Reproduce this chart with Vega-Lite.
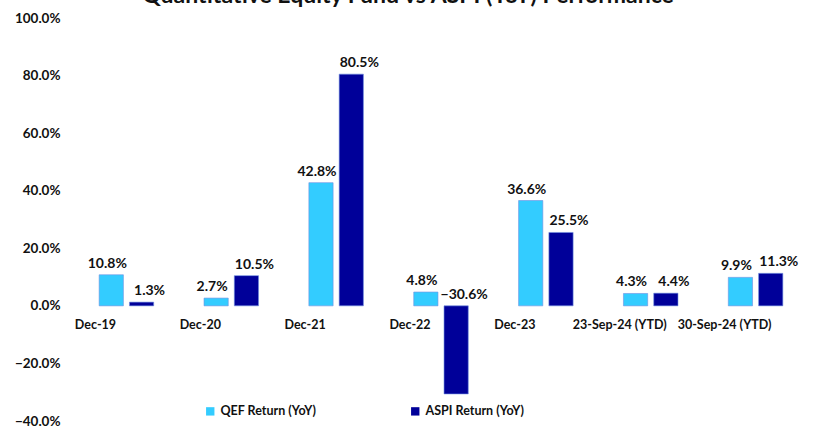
{
  "$schema": "https://vega.github.io/schema/vega-lite/v6.json",
  "autosize": {"type": "none"},
  "width": 734,
  "height": 403,
  "padding": {"left": 74, "top": 18, "right": 12, "bottom": 7},
  "background": "white",
  "config": {"view": {"stroke": null}, "font": "Lato"},
  "title": {
    "text": "Quantitative Equity Fund vs ASPI (YoY) Performance",
    "fontSize": 23,
    "fontWeight": "bold",
    "font": "Lato",
    "color": "#111111",
    "anchor": "middle",
    "dx": -33,
    "baseline": "alphabetic",
    "offset": -15
  },
  "data": {
    "values": [
      {"period": "Dec-19", "series": "QEF Return (YoY)", "value": 10.8},
      {"period": "Dec-19", "series": "ASPI Return (YoY)", "value": 1.3},
      {"period": "Dec-20", "series": "QEF Return (YoY)", "value": 2.7},
      {"period": "Dec-20", "series": "ASPI Return (YoY)", "value": 10.5},
      {"period": "Dec-21", "series": "QEF Return (YoY)", "value": 42.8},
      {"period": "Dec-21", "series": "ASPI Return (YoY)", "value": 80.5},
      {"period": "Dec-22", "series": "QEF Return (YoY)", "value": 4.8},
      {"period": "Dec-22", "series": "ASPI Return (YoY)", "value": -30.6},
      {"period": "Dec-23", "series": "QEF Return (YoY)", "value": 36.6},
      {"period": "Dec-23", "series": "ASPI Return (YoY)", "value": 25.5},
      {"period": "23-Sep-24 (YTD)", "series": "QEF Return (YoY)", "value": 4.3},
      {"period": "23-Sep-24 (YTD)", "series": "ASPI Return (YoY)", "value": 4.4},
      {"period": "30-Sep-24 (YTD)", "series": "QEF Return (YoY)", "value": 9.9},
      {"period": "30-Sep-24 (YTD)", "series": "ASPI Return (YoY)", "value": 11.3}
    ]
  },
  "transform": [
    {"calculate": "max(datum.value, 0)", "as": "labelPos"},
    {"calculate": "format(datum.value, '.1f') + '%'", "as": "label"}
  ],
  "encoding": {
    "x": {
      "field": "period",
      "type": "nominal",
      "sort": null,
      "scale": {"paddingInner": 0.48, "paddingOuter": 0.24},
      "axis": {
        "title": null,
        "orient": "bottom",
        "offset": -115,
        "domain": false,
        "ticks": false,
        "labelAngle": 0,
        "labelOffset": -31,
        "labelPadding": 12,
        "labelFontSize": 12.5,
        "labelFontWeight": "bold",
        "labelColor": "#111111",
        "labelFont": "Lato"
      }
    },
    "xOffset": {
      "field": "series",
      "type": "nominal",
      "sort": ["QEF Return (YoY)", "ASPI Return (YoY)"],
      "scale": {"paddingInner": 0.2}
    }
  },
  "layer": [
    {
      "mark": {"type": "bar", "stroke": "#6f8fe0", "strokeWidth": 0.6},
      "encoding": {
        "y": {
          "field": "value",
          "type": "quantitative",
          "scale": {"domain": [-40, 100], "nice": false},
          "axis": {
            "title": null,
            "values": [-40, -20, 0, 20, 40, 60, 80, 100],
            "labelExpr": "format(datum.value, '.1f') + '%'",
            "grid": false,
            "domain": false,
            "ticks": false,
            "labelPadding": 14,
            "labelFontSize": 13.5,
            "labelFontWeight": "bold",
            "labelColor": "#111111",
            "labelFont": "Lato"
          }
        },
        "color": {
          "field": "series",
          "type": "nominal",
          "sort": ["QEF Return (YoY)", "ASPI Return (YoY)"],
          "scale": {
            "domain": ["QEF Return (YoY)", "ASPI Return (YoY)"],
            "range": ["#33CCFF", "#000099"]
          },
          "legend": {
            "title": null,
            "orient": "none",
            "direction": "horizontal",
            "legendX": 130,
            "legendY": 387,
            "symbolType": "square",
            "symbolSize": 70,
            "symbolStrokeWidth": 0,
            "labelFontSize": 12.5,
            "labelFontWeight": "bold",
            "labelColor": "#111111",
            "labelFont": "Lato",
            "columnPadding": 92,
            "labelOffset": 4
          }
        }
      }
    },
    {
      "transform": [{"filter": "datum.series === 'QEF Return (YoY)'"}],
      "mark": {"type": "text", "baseline": "bottom", "dy": -4, "dx": -4, "fontSize": 14, "fontWeight": "bold", "color": "#111111", "font": "Lato"},
      "encoding": {
        "y": {"field": "labelPos", "type": "quantitative"},
        "text": {"field": "label"}
      }
    },
    {
      "transform": [{"filter": "datum.series === 'ASPI Return (YoY)'"}],
      "mark": {"type": "text", "baseline": "bottom", "dy": -4, "dx": 8, "fontSize": 14, "fontWeight": "bold", "color": "#111111", "font": "Lato"},
      "encoding": {
        "y": {"field": "labelPos", "type": "quantitative"},
        "text": {"field": "label"}
      }
    }
  ]
}
